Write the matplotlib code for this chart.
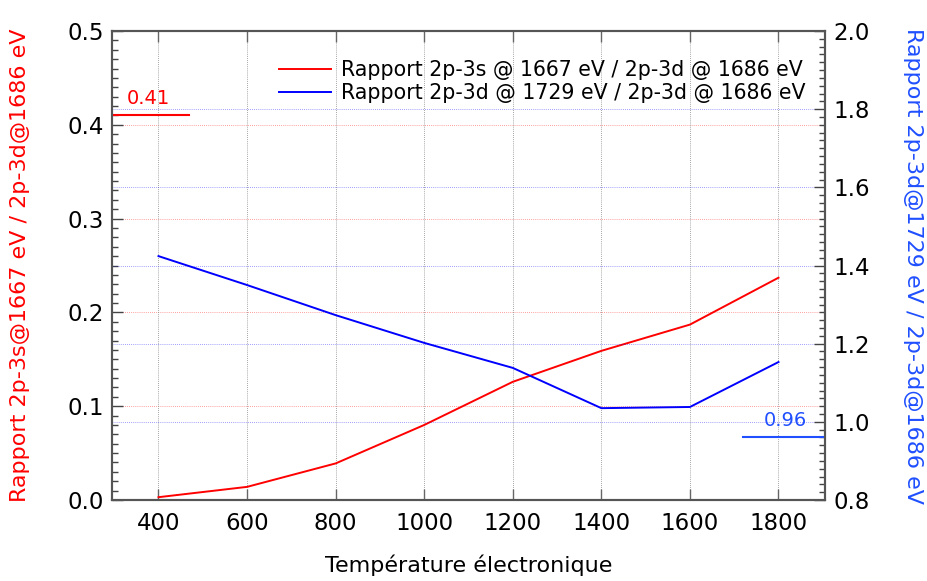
import matplotlib
matplotlib.use("Agg")
import matplotlib.pyplot as plt
from matplotlib.ticker import MultipleLocator

temps = [400, 600, 800, 1000, 1200, 1400, 1600, 1800]
ratio_3s = [0.003, 0.014, 0.039, 0.080, 0.126, 0.159, 0.187, 0.237]
ratio_3d = [1.424, 1.350, 1.273, 1.202, 1.138, 1.035, 1.038, 1.153]
label_red = "Rapport 2p-3s @ 1667 eV / 2p-3d @ 1686 eV"
label_blue = "Rapport 2p-3d @ 1729 eV / 2p-3d @ 1686 eV"
ylabel_left = "Rapport 2p-3s@1667 eV / 2p-3d@1686 eV"
ylabel_right = "Rapport 2p-3d@1729 eV / 2p-3d@1686 eV"
xlabel = "Température électronique"
ref_red = 0.41
ref_blue = 0.96

RED = "#ff0000"
BLUE = "#0000ff"
BLUE_TXT = "#1f4fff"

plt.rcParams['font.family'] = ['DejaVu Sans']
fig = plt.figure(figsize=(9.28, 5.81), dpi=100)
ax = fig.add_axes([112/928, 1-500/581, (825-112)/928, (500-31)/581])
ax2 = ax.twinx()

ax.set_xlim(295, 1905)
ax.set_ylim(0, 0.5)
ax2.set_ylim(0.8, 2.0)

# grids
for v in [0.1, 0.2, 0.3, 0.4]:
    ax.axhline(v, color=RED, lw=0.6, ls=(0, (1, 1.5)), alpha=0.5, zorder=0)
for v in [1.0, 1.2, 1.4, 1.6, 1.8]:
    ax2.axhline(v, color=BLUE, lw=0.6, ls=(0, (1, 1.5)), alpha=0.5, zorder=0)
for t in temps:
    ax.axvline(t, color="#888888", lw=0.6, ls=(0, (1, 1.5)), zorder=0)

l1, = ax.plot(temps, ratio_3s, color=RED, lw=1.4, label=label_red)
l2, = ax2.plot(temps, ratio_3d, color=BLUE, lw=1.4, label=label_blue)

# reference marks
ax.plot([295, 470], [ref_red, ref_red], color=RED, lw=1.5)
ax.text(328, ref_red + 0.008, "0.41", color=RED, fontsize=14, ha="left", va="bottom")
ax2.plot([1720, 1905], [ref_blue, ref_blue], color=BLUE_TXT, lw=1.5)
ax2.text(1865, ref_blue + 0.018, "0.96", color=BLUE_TXT, fontsize=14, ha="right", va="bottom")

ax.set_xticks(temps)
ax.set_yticks([0.0, 0.1, 0.2, 0.3, 0.4, 0.5])
ax.set_yticklabels(["0.0", "0.1", "0.2", "0.3", "0.4", "0.5"])
ax.yaxis.set_minor_locator(MultipleLocator(0.01))
ax2.set_yticks([0.8, 1.0, 1.2, 1.4, 1.6, 1.8, 2.0])
ax2.set_yticklabels(["0.8", "1.0", "1.2", "1.4", "1.6", "1.8", "2.0"])
ax2.yaxis.set_minor_locator(MultipleLocator(0.02))

ax.tick_params(axis="x", direction="in", length=8, width=1, color="#666666",
               labelsize=16.5, top=True, pad=9)
ax.tick_params(axis="y", which="major", direction="in", length=8, width=1,
               color="#444444", labelsize=16.5, pad=6)
ax.tick_params(axis="y", which="minor", direction="in", length=4, width=1, color="#444444")
ax2.tick_params(axis="y", which="major", direction="in", length=8, width=1,
                color="#444444", labelsize=16.5, pad=6)
ax2.tick_params(axis="y", which="minor", direction="in", length=4, width=1, color="#444444")

for a in (ax, ax2):
    for s in a.spines.values():
        s.set_color("#555555")
        s.set_linewidth(1.5)

ax.set_xlabel(xlabel, fontsize=16, labelpad=14)
ax.set_ylabel(ylabel_left, color=RED, fontsize=16, labelpad=27)
ax2.set_ylabel(ylabel_right, color=BLUE_TXT, fontsize=16, rotation=-90, labelpad=38)

ax.legend(handles=[l1, l2], loc="upper right", frameon=False, fontsize=14.8,
          handlelength=2.5, bbox_to_anchor=(0.99, 0.965), borderaxespad=0.2,
          labelspacing=0.15, handletextpad=0.5)

fig.savefig("out.png", dpi=100)
